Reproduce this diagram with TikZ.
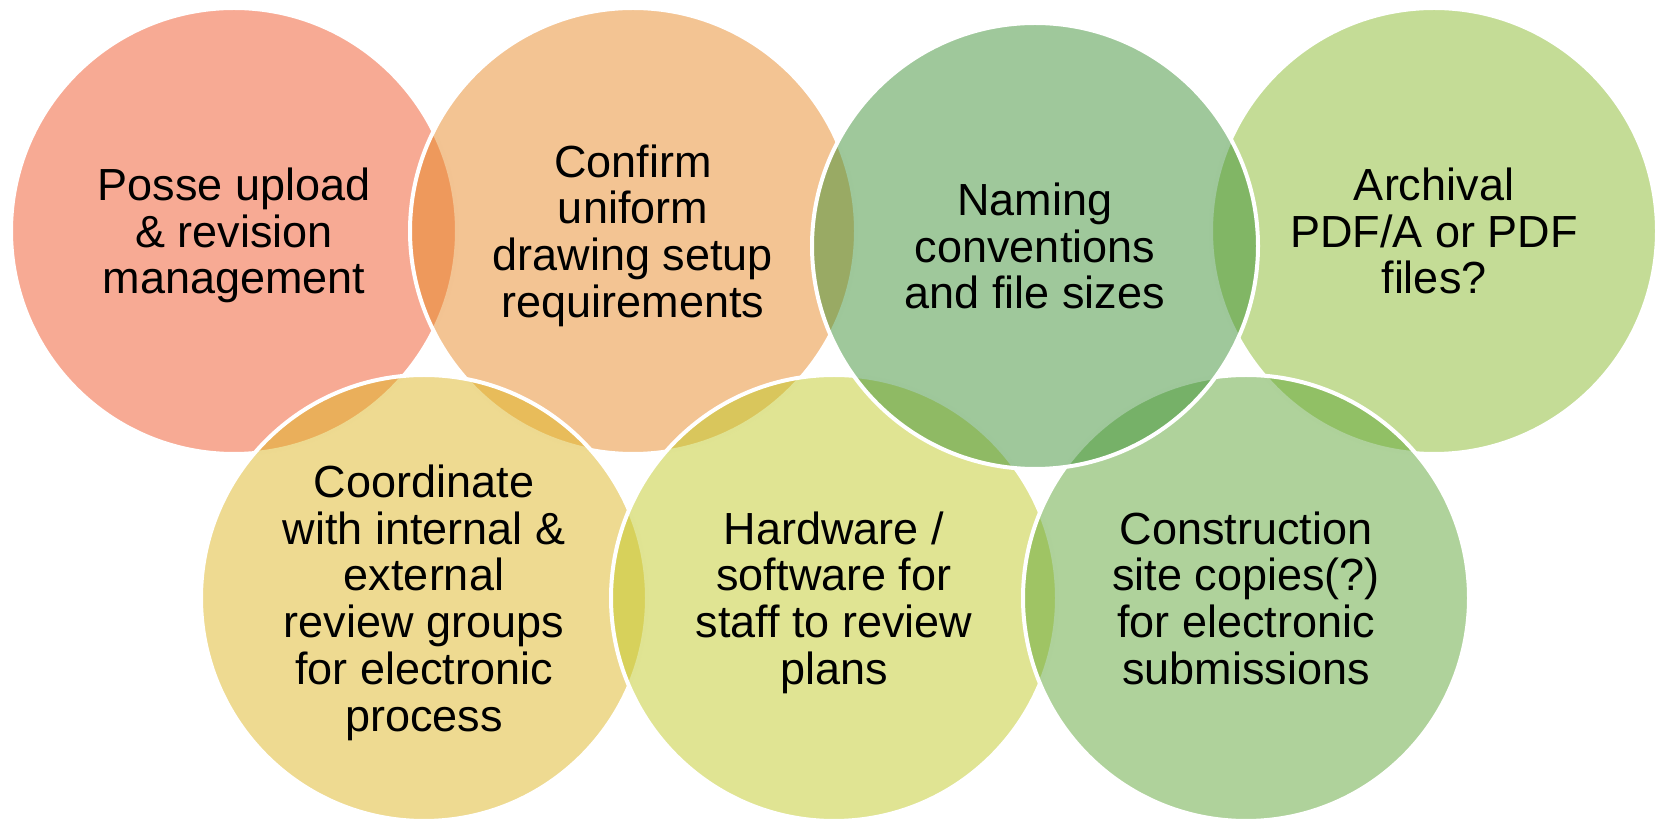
\documentclass[tikz,border=0pt]{standalone}
\usepackage{fontspec}
\setmainfont{Liberation Sans}
\definecolor{c1}{RGB}{239,85,41}
\definecolor{c2}{RGB}{231,137,39}
\definecolor{c3}{RGB}{63,145,55}
\definecolor{c4}{RGB}{137,185,45}
\definecolor{c5}{RGB}{221,181,35}
\definecolor{c6}{RGB}{193,201,39}
\definecolor{c7}{RGB}{95,165,55}
\begin{document}
\begin{tikzpicture}[x=1pt,y=1pt]
\tikzset{bubble/.style={circle, minimum size=446pt, inner sep=0pt, draw=white, line width=4pt,
  fill opacity=0.5, draw opacity=1, text opacity=1, align=center, text=black, text depth=0pt,
  font=\fontsize{45}{46.7}\selectfont}}
\useasboundingbox (0,0) rectangle (1657,822);
\node[bubble, fill=c1] (n1) at (234,591) {Posse upload\\\& revision\\management};
\node[bubble, fill=c2] (n2) at (633,591) {Confirm\\uniform\\drawing setup\\requirements};
\node[bubble, fill=c4] (n4) at (1434,591) {Archival\\PDF/A or PDF\\files?};
\node[bubble, fill=c5] (n5) at (424,224) {Coordinate\\with internal \&\\external\\review groups\\for electronic\\process};
\node[bubble, fill=c6] (n6) at (834,224) {Hardware /\\software for\\staff to review\\plans};
\node[bubble, fill=c7] (n7) at (1246,224) {Construction\\site copies(?)\\for electronic\\submissions};
\node[bubble, fill=c3] (n3) at (1035,576) {Naming\\conventions\\and file sizes};
\end{tikzpicture}
\end{document}
